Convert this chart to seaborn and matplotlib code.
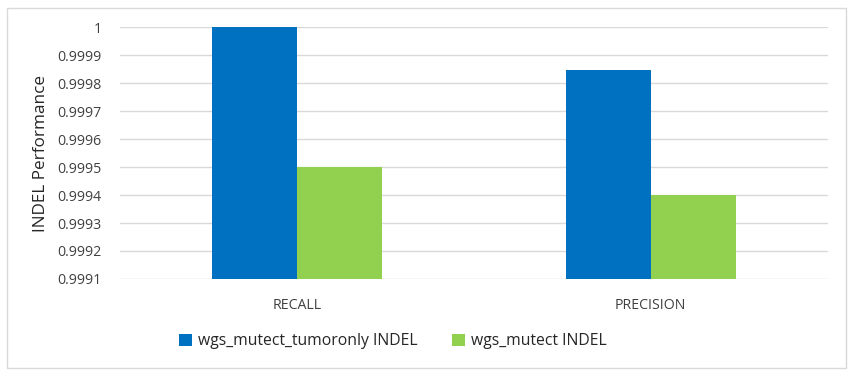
import pandas as pd
import seaborn as sns
import matplotlib.pyplot as plt
from matplotlib.patches import Rectangle

metrics = ['RECALL', 'PRECISION']
series = ['wgs_mutect_tumoronly INDEL', 'wgs_mutect INDEL']
tumoronly = [1.0, 0.999846]
mutect = [0.9995, 0.9994]
colors = ['#0070C0', '#92D050']
yticks = [0.9991, 0.9992, 0.9993, 0.9994, 0.9995, 0.9996, 0.9997, 0.9998, 0.9999, 1.0]
ytick_labels = ['0.9991', '0.9992', '0.9993', '0.9994', '0.9995',
                '0.9996', '0.9997', '0.9998', '0.9999', '1']

df = pd.DataFrame({
    'metric': metrics * 2,
    'series': [series[0]] * 2 + [series[1]] * 2,
    'value': tumoronly + mutect,
})

sns.set_style('white')
plt.rcParams['font.family'] = ['Open Sans', 'DejaVu Sans']

fig = plt.figure(figsize=(8.56, 3.77), dpi=100)
ax = fig.add_axes([0.140, 0.260, 0.827, 0.668])

sns.barplot(data=df, x='metric', y='value', hue='series', palette=colors,
            width=0.48, saturation=1, linewidth=0, ax=ax, legend=True)

ax.set_ylim(0.9991, 1.0)
ax.set_xlim(-0.5, 1.5)
ax.set_yticks(yticks)
ax.set_yticklabels(ytick_labels, fontsize=10.2, color='#404040')
ax.tick_params(axis='x', labelsize=10.2, colors='#404040', length=0, pad=14)
ax.tick_params(axis='y', length=0, pad=13)
ax.set_xlabel('')
ax.set_ylabel('INDEL Performance', fontsize=12.3, color='#262626', labelpad=6)
ax.yaxis.grid(True, color='#d9d9d9', linewidth=1)
ax.set_axisbelow(True)
for s in ax.spines.values():
    s.set_visible(False)

handles, labels = ax.get_legend_handles_labels()
ax.legend(handles, labels, loc='center', ncol=2, frameon=False, fontsize=11.3,
          handlelength=0.8, handleheight=0.8, handletextpad=0.4, columnspacing=2.2,
          labelcolor='#262626')
ax.legend_.set_bbox_to_anchor((0.459, 0.095), transform=fig.transFigure)

fig.patches.append(Rectangle((7 / 856, 1 - 368 / 377), 839 / 856, 360 / 377,
                             transform=fig.transFigure, fill=False,
                             edgecolor='#d9d9d9', linewidth=1))

fig.savefig('out.png', dpi=100)
